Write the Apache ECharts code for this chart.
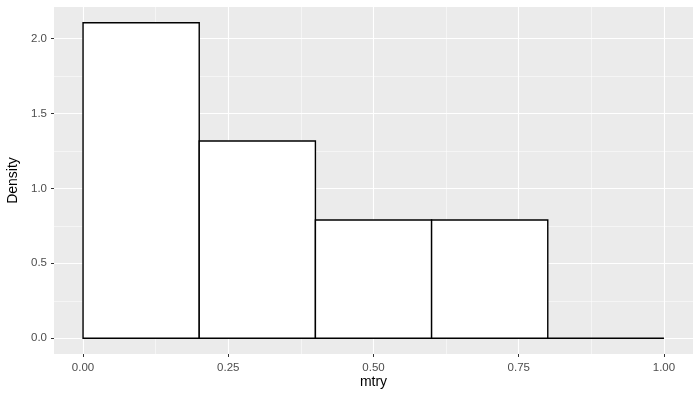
<!DOCTYPE html>
<html>
<head>
<meta charset="utf-8">
<script src="https://cdn.jsdelivr.net/npm/echarts@6/dist/echarts.min.js"></script>
<style>
  html, body { margin: 0; padding: 0; background: #fff; }
  #histPlot { width: 700px; height: 400px; }
</style>
</head>
<body>
<div id="histPlot"></div>
<script>
// histogram bins for mtry (left edge, right edge, density)
const binStart = [0.0, 0.2, 0.4, 0.6, 0.8];
const binEnd = [0.2, 0.4, 0.6, 0.8, 1.0];
const density = [2.105, 1.316, 0.789, 0.789, 0.0];

const xTicks = [0, 0.25, 0.5, 0.75, 1.0];
const xMinor = [0.125, 0.375, 0.625, 0.875];
const yTicks = [0, 0.5, 1.0, 1.5, 2.0];
const yMinor = [0.25, 0.75, 1.25, 1.75];

const renderHist = () => {
  const chartDom = document.getElementById("histPlot");
  const myChart = echarts.init(chartDom, null, { renderer: "canvas" });

  const font = "'Liberation Sans', Arial, sans-serif";
  const bins = binStart.map((s, i) => [s, binEnd[i], density[i]]);

  const majorAxis = (extra) => Object.assign({
    type: "value",
    nameMoveOverlap: false,
    axisLine: { show: false, onZero: false },
    splitLine: { show: true, lineStyle: { color: "#FFFFFF", width: 1.1 } },
  }, extra);

  const minorAxis = (extra) => Object.assign({
    type: "value",
    axisLine: { show: false, onZero: false },
    splitLine: { show: true, lineStyle: { color: "#FFFFFF", width: 0.5 } },
  }, extra);

  const option = {
    animation: false,
    backgroundColor: "#FFFFFF",
    grid: {
      left: 54, right: 7, top: 7, bottom: 46,
      outerBoundsMode: "none",
      show: true, backgroundColor: "#EBEBEB", borderWidth: 0,
    },
    xAxis: [
      majorAxis({
        min: -0.05, max: 1.05, position: "bottom",
        name: "mtry", nameLocation: "middle", nameGap: 21,
        nameTextStyle: { color: "#000000", fontSize: 14, fontFamily: font },
        axisTick: { show: true, length: 3, customValues: xTicks, lineStyle: { color: "#333333", width: 1 } },
        axisLabel: {
          color: "#4D4D4D", fontSize: 11.5, fontFamily: font, margin: 8,
          customValues: xTicks, formatter: (v) => v.toFixed(2),
        },
      }),
      minorAxis({
        min: -0.05, max: 1.05, position: "top",
        axisTick: { show: false, customValues: xMinor },
        axisLabel: { show: false, customValues: xMinor },
      }),
    ],
    yAxis: [
      majorAxis({
        min: -0.105, max: 2.21, position: "left",
        name: "Density", nameLocation: "middle", nameGap: 34,
        nameTextStyle: { color: "#000000", fontSize: 14, fontFamily: font },
        axisTick: { show: true, length: 3, customValues: yTicks, lineStyle: { color: "#333333", width: 1 } },
        axisLabel: {
          color: "#4D4D4D", fontSize: 11.5, fontFamily: font, margin: 7,
          customValues: yTicks, formatter: (v) => v.toFixed(1),
        },
      }),
      minorAxis({
        min: -0.105, max: 2.21, position: "right",
        axisTick: { show: false, customValues: yMinor },
        axisLabel: { show: false, customValues: yMinor },
      }),
    ],
    series: [
      {
        type: "custom",
        xAxisIndex: 0,
        yAxisIndex: 0,
        data: bins,
        renderItem: (params, api) => {
          const p0 = api.coord([api.value(0), 0]);
          const p1 = api.coord([api.value(1), api.value(2)]);
          return {
            type: "rect",
            shape: { x: p0[0], y: p1[1], width: p1[0] - p0[0], height: p0[1] - p1[1] },
            style: { fill: "#FFFFFF", stroke: "#000000", lineWidth: 1.4 },
          };
        },
      },
    ],
  };

  option && myChart.setOption(option);
};

renderHist();
</script>
</body>
</html>
